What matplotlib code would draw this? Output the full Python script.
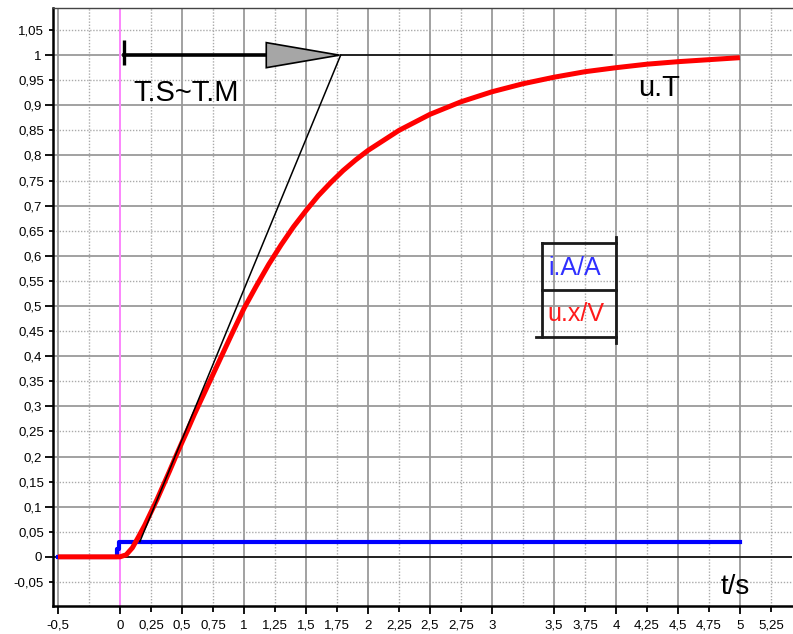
import matplotlib
matplotlib.use("Agg")
import matplotlib.pyplot as plt
from matplotlib.ticker import MultipleLocator, FixedLocator, FuncFormatter
from matplotlib.patches import Polygon

plt.rcParams['font.family'] = ['Liberation Sans', 'DejaVu Sans']

# measured step response u.x/V
t_red = [-0.5, 0.0, 0.05, 0.1, 0.15, 0.2, 0.25, 0.3, 0.35, 0.4, 0.45, 0.5, 0.54,
         0.6, 0.7, 0.8, 0.9, 1.0, 1.1, 1.2, 1.3, 1.4, 1.5, 1.6, 1.7, 1.8, 1.9,
         2.0, 2.25, 2.5, 2.75, 3.0, 3.25, 3.5, 3.75, 4.0, 4.25, 4.5, 4.75, 5.0]
u_red = [0.0, 0.0, 0.004, 0.018, 0.04, 0.063, 0.089, 0.115, 0.143, 0.171, 0.2, 0.228, 0.25,
         0.284, 0.337, 0.39, 0.443, 0.495, 0.54, 0.583, 0.622, 0.658, 0.69, 0.72, 0.746, 0.77, 0.791,
         0.81, 0.85, 0.882, 0.907, 0.927, 0.943, 0.956, 0.967, 0.975, 0.982, 0.987, 0.991, 0.995]

# input current i.A/A
t_blue = [-0.5, -0.025, -0.025, -0.005, -0.005, 5.0]
i_blue = [0.0, 0.0, 0.015, 0.015, 0.03, 0.03]

# tangent construction
tangent_x = [0.16, 1.78]
tangent_y = [0.03, 1.0]
uT_x = [1.78, 3.97]
uT_y = [1.0, 1.0]

x_major = [-0.5 + 0.5 * i for i in range(12)]
x_minor = [-0.25 + 0.5 * i for i in range(12)]
x_minor_hidden = [-0.25, 3.25]


def comma(v, pos=None):
    v = round(v, 2)
    if v == 0:
        return "0"
    return f"{v:g}".replace(".", ",")


fig = plt.figure(figsize=(7.93, 6.34), dpi=100)
ax = fig.add_axes([53 / 793, 28 / 634, 739 / 793, 598.5 / 634])

ax.set_xlim(-0.54, 5.42)
ax.set_ylim(-0.098, 1.095)

ax.xaxis.set_major_locator(FixedLocator(x_major))
ax.xaxis.set_minor_locator(FixedLocator(x_minor))
ax.xaxis.set_major_formatter(FuncFormatter(comma))
ax.xaxis.set_minor_formatter(FuncFormatter(lambda v, p: "" if round(v, 2) in x_minor_hidden else comma(v)))
ax.yaxis.set_major_locator(MultipleLocator(0.1))
ax.yaxis.set_minor_locator(MultipleLocator(0.05))
ax.yaxis.set_major_formatter(FuncFormatter(comma))
ax.yaxis.set_minor_formatter(FuncFormatter(comma))

ax.grid(which='major', color='#9a9a9a', lw=1.3, ls='-', zorder=0)
ax.grid(which='minor', color='#aaaaaa', lw=1.0, ls=(0, (1, 1.2)), zorder=0)
ax.set_axisbelow(True)

ax.tick_params(axis='x', which='major', length=6, width=1.3, pad=4, labelsize=9.5)
ax.tick_params(axis='x', which='minor', length=4, width=1.3, pad=5.5, labelsize=9.5)
ax.tick_params(axis='y', which='major', length=6, width=1.3, pad=2, labelsize=9.5)
ax.tick_params(axis='y', which='minor', length=3, width=1.3, pad=3.5, labelsize=9.5)
for tk, loc in zip(ax.xaxis.get_minor_ticks(), x_minor):
    if round(loc, 2) in x_minor_hidden:
        tk.tick1line.set_visible(False)

for s in ['left', 'bottom']:
    ax.spines[s].set_linewidth(1.8)
    ax.spines[s].set_color('black')
ax.spines['top'].set_color('#444444')
ax.spines['top'].set_linewidth(1.0)
ax.spines['right'].set_visible(False)

ax.axhline(0, color='black', lw=1.1, zorder=1)
ax.axvline(0, color='#ff88ff', lw=1.4, zorder=1)

ax.plot(t_blue, i_blue, color='#0000ff', lw=3.0, zorder=3)
ax.plot(t_red, u_red, color='#ff0000', lw=3.6, zorder=4, solid_capstyle='butt')
ax.plot(tangent_x, tangent_y, color='black', lw=1.1, zorder=5)
ax.plot(uT_x, uT_y, color='black', lw=1.1, zorder=5)

# T.S~T.M arrow
ax.plot([0.03, 0.03], [0.98, 1.03], color='black', lw=2.4, zorder=6, solid_capstyle='butt')
ax.plot([0.03, 1.18], [1.0, 1.0], color='black', lw=2.6, zorder=6)
ax.add_patch(Polygon([[1.18, 0.975], [1.18, 1.025], [1.77, 1.0]], closed=True,
                     facecolor='#a6a6a6', edgecolor='black', lw=1.2, zorder=7))

ax.text(0.105, 0.924, "T.S~T.M", fontsize=21, ha='left', va='center', zorder=8)
ax.text(4.35, 0.934, "u.T", fontsize=21, ha='center', va='center', zorder=8)
ax.text(4.96, -0.06, "t/s", fontsize=20, ha='center', va='center', zorder=8)

# legend box
def ax_xy(px, py):
    return (px - 53) / 739, (606 - py) / 598.5

box_lines = [
    [(541.7, 242.7), (541.7, 336.7)],
    [(536, 336.7), (616, 336.7)],
    [(541.7, 242.7), (616, 242.7)],
    [(541.7, 290), (616, 290)],
    [(616, 237), (616, 343)],
]
for (p0, p1) in box_lines:
    a = ax_xy(*p0)
    b = ax_xy(*p1)
    ax.plot([a[0], b[0]], [a[1], b[1]], color='#1a1a1a', lw=2.0,
            transform=ax.transAxes, zorder=9, clip_on=False)
lx, ly = ax_xy(575, 268)
ax.text(lx, ly, "i.A/A", color='#3030ff', fontsize=18, ha='center', va='center',
        transform=ax.transAxes, zorder=9)
lx, ly = ax_xy(576, 314)
ax.text(lx, ly, "u.x/V", color='#ff1a1a', fontsize=18, ha='center', va='center',
        transform=ax.transAxes, zorder=9)

fig.savefig("out.png", dpi=100)
